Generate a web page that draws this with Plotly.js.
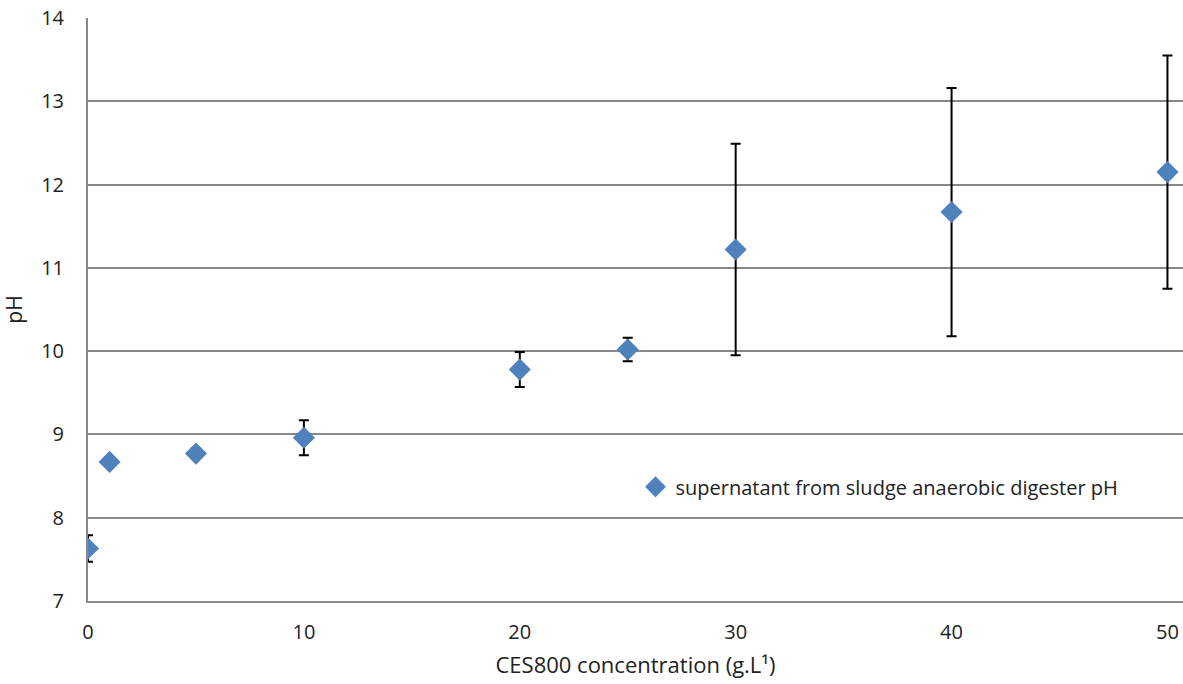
<!DOCTYPE html>
<html>
<head>
<meta charset="utf-8">
<script src="https://cdn.plot.ly/plotly-3.0.1.min.js"></script>
<style>html,body{margin:0;padding:0;background:#fff;}#chart{width:1183px;height:684px;}</style>
</head>
<body>
<div id="chart"></div>
<script>
const concentration = [0, 1, 5, 10, 20, 25, 30, 40, 50];
const pH = [7.63, 8.67, 8.77, 8.96, 9.78, 10.02, 11.22, 11.67, 12.15];
const pHError = [0.16, 0.03, 0.06, 0.21, 0.21, 0.14, 1.27, 1.49, 1.40];
const xTicks = [0, 10, 20, 30, 40, 50];
const yTicks = [7, 8, 9, 10, 11, 12, 13, 14];
const seriesName = 'supernatant from sludge anaerobic digester pH';

const trace = {
  x: concentration,
  y: pH,
  type: 'scatter',
  mode: 'markers',
  name: seriesName,
  marker: {symbol: 'diamond', size: 17, color: '#4F81BD'},
  error_y: {type: 'data', array: pHError, visible: true, color: '#000000', thickness: 2, width: 5}
};

const layout = {
  width: 1183, height: 684,
  margin: {l: 88, r: 0, t: 18, b: 83},
  paper_bgcolor: '#ffffff', plot_bgcolor: '#ffffff',
  font: {family: 'Open Sans, Liberation Sans, sans-serif', color: '#222222', size: 20},
  showlegend: true,
  legend: {x: 0.5, y: 0.196, xanchor: 'left', yanchor: 'middle', bgcolor: 'rgba(0,0,0,0)', font: {size: 20}, itemwidth: 30},
  xaxis: {
    range: [0, 50.72], tickvals: xTicks, ticktext: xTicks.map(String),
    showgrid: false, zeroline: false, showline: true, linecolor: '#888888', linewidth: 2,
    ticks: '', tickfont: {size: 20}, ticklabelstandoff: 12,
    title: {text: 'CES800 concentration (g.L¹)', font: {size: 22}, standoff: 14}
  },
  yaxis: {
    range: [7, 14], tickvals: yTicks, ticktext: yTicks.map(String),
    showgrid: true, gridcolor: '#888888', gridwidth: 2, zeroline: false,
    showline: true, linecolor: '#888888', linewidth: 2,
    ticks: '', tickfont: {size: 20}, ticklabelstandoff: 18,
    title: {text: 'pH', font: {size: 21}, standoff: 14}
  }
};

Plotly.newPlot('chart', [trace], layout, {displayModeBar: false, staticPlot: true});
</script>
</body>
</html>
